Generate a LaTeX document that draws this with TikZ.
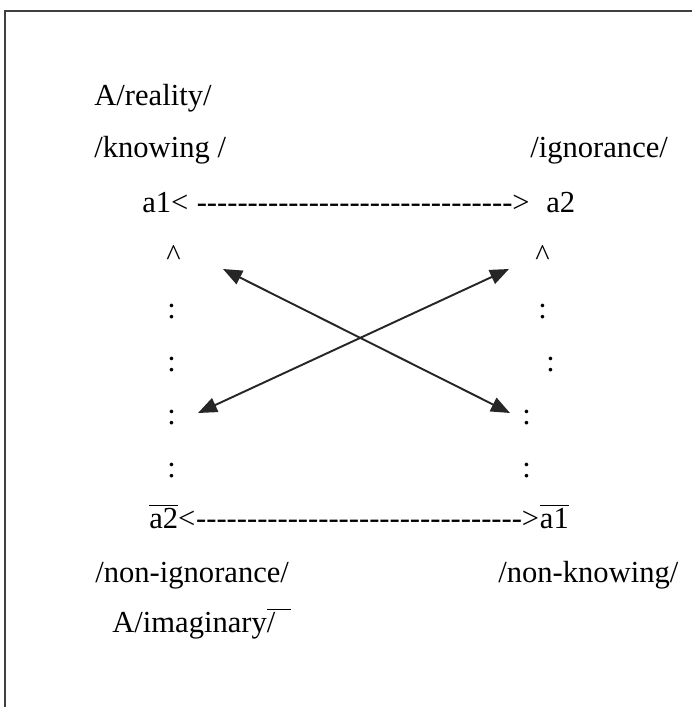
\documentclass[tikz,border=0pt]{standalone}
\usepackage{fontspec}
\setmainfont{Liberation Serif}
\usetikzlibrary{arrows.meta}
\newcommand{\dashrow}[1]{\foreach \i in {1,...,#1}{\hbox{-}}}
\tikzset{lbl/.style={anchor=base west,inner sep=0pt},
  cross/.style={{Triangle[length=0.38cm,width=0.3cm]}-{Triangle[length=0.38cm,width=0.3cm]},line width=1.1pt,black!85}}

\begin{document}
\begin{tikzpicture}[font=\fontsize{17.4}{20}\selectfont]
\useasboundingbox (0,0) rectangle (13.84,-14.14);
\draw[line width=1.4pt,black!75] (0.1,-14.14) -- (0.1,-0.22) -- (13.84,-0.22);
% upper labels
\node[lbl] (reality) at (1.88,-2.1) {A/reality/};
\node[lbl] (knowing) at (1.88,-3.14) {/knowing /};
\node[lbl] (ignorance) at (10.6,-3.14) {/ignorance/};
\node[lbl] (a1) at (2.84,-4.24) {a1<};
\node[lbl] (toparrow) at (a1.base east) {\ \dashrow{31}>};
\node[lbl] (a2) at ([xshift=0.32cm]toparrow.base east) {a2};
% columns
\node[lbl] (upl) at (3.32,-5.3) {\^{}};
\node[lbl] (upr) at (10.7,-5.3) {\^{}};
\foreach \y [count=\i] in {-6.36,-7.42,-8.48,-9.54}
  \node[lbl] (lc\i) at (3.34,\y) {:};
\foreach \x/\y [count=\i] in {10.76/-6.36,10.92/-7.42,10.44/-8.48,10.44/-9.54}
  \node[lbl] (rc\i) at (\x,\y) {:};
% lower labels
\node[lbl] (na2) at (2.98,-10.56) {$\overline{\mbox{a2}}$<};
\node[lbl] (botarrow) at (na2.base east) {\dashrow{32}>};
\node[lbl] (na1) at (botarrow.base east) {$\overline{\mbox{a1}}$};
\node[lbl] (nonign) at (1.9,-11.64) {/non-ignorance/};
\node[lbl] (nonknow) at (9.96,-11.64) {/non-knowing/};
\node[lbl] (imag) at (2.24,-12.64) {A/imaginary$\overline{\mbox{/\ \ }}$};
% crossing arrows
\coordinate (p1) at (4.46,-5.38);
\coordinate (p2) at (10.2,-8.26);
\coordinate (p3) at (3.96,-8.26);
\coordinate (p4) at (10.18,-5.38);
\draw[cross] (p1) -- (p2);
\draw[cross] (p3) -- (p4);
\end{tikzpicture}
\end{document}
